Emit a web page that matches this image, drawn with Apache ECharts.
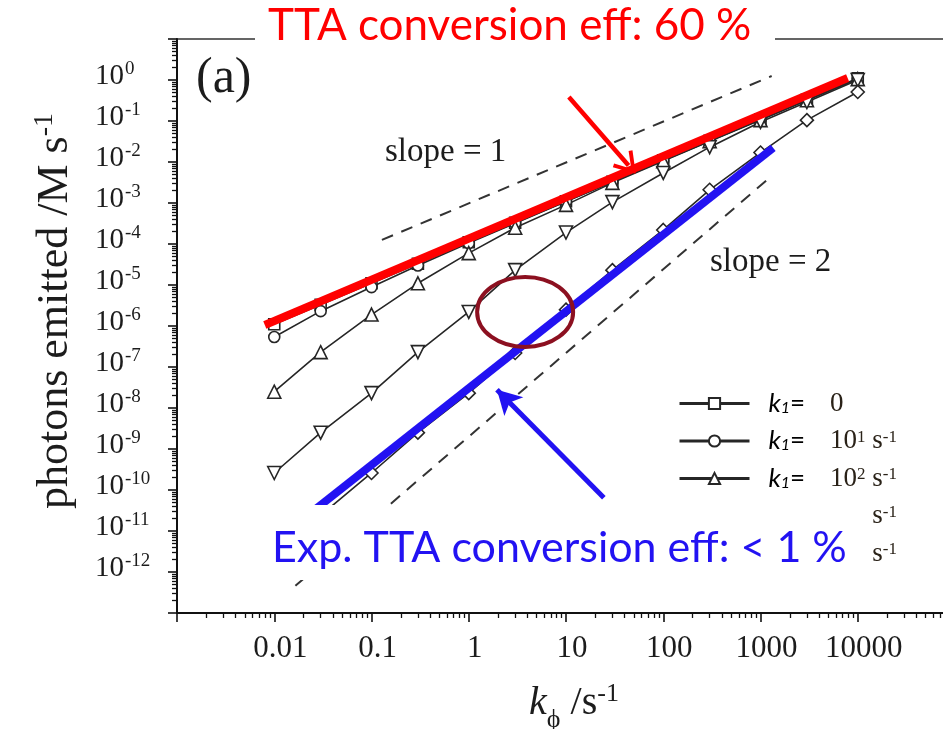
<!DOCTYPE html>
<html><head><meta charset="utf-8">
<script src="https://cdn.jsdelivr.net/npm/echarts@6/dist/echarts.min.js"></script>
<style>html,body{margin:0;padding:0;background:#fff}#c{width:943px;height:729px}</style>
</head><body><div id="c"></div>
<script>
// ---- data ----
const kPhi = [0.01, 0.03, 0.1, 0.3, 1, 3, 10, 30, 100, 300, 1000, 3000, 10000];
const emitK0     = [1.1e-6, 3.3e-6, 1.1e-5, 3.3e-5, 1.1e-4, 3.3e-4, 1.1e-3, 3.3e-3, 1.1e-2, 3.3e-2, 0.11, 0.33, 1.1];
const emitK10    = [5.4e-7, 2.3e-6, 8.9e-6, 3.0e-5, 1.05e-4, 3.2e-4, 1.08e-3, 3.25e-3, 1.08e-2, 3.25e-2, 0.108, 0.325, 1.08];
const emitK100   = [2.5e-8, 2.3e-7, 1.9e-6, 1.1e-5, 6.0e-5, 2.5e-4, 9.0e-4, 3.1e-3, 1.05e-2, 3.2e-2, 0.105, 0.32, 1.05];
const emitK1000  = [2.6e-10, 2.5e-9, 2.3e-8, 2.3e-7, 2.2e-6, 2.3e-5, 1.9e-4, 1.05e-3, 5.4e-3, 2.3e-2, 9.5e-2, 0.29, 1.0];
const emitK10000 = [2.6e-12, 2.4e-11, 2.6e-10, 2.5e-9, 2.3e-8, 2.2e-7, 2.5e-6, 2.3e-5, 2.2e-4, 2.1e-3, 1.7e-2, 0.105, 0.51];

const seriesNames = ['k1=0', 'k1=10^1', 'k1=10^2', 'k1=10^3', 'k1=10^4'];
const legendExponents = [null, '1', '2', '3', '4'];
const seriesSymbols = ['rect', 'circle', 'triangle', 'triangle', 'diamond'];
const seriesRotate = [0, 0, 0, 180, 0];

const xLabelValues = [0.01, 0.1, 1, 10, 100, 1000, 10000];
const xLabelTexts = ['0.01', '0.1', '1', '10', '100', '1000', '10000'];
const xDecades = [1e-3, 1e-2, 1e-1, 1, 10, 100, 1000, 1e4, 1e5];
const yLabelExponents = [0, -1, -2, -3, -4, -5, -6, -7, -8, -9, -10, -11, -12];
const yDecadeExponents = [1, 0, -1, -2, -3, -4, -5, -6, -7, -8, -9, -10, -11, -12, -13];

// guide / annotation lines (data coordinates)
const slope1Line = [[0.128, 1.26e-4], [1303, 1.25]];
const slope2Line = [[0.0165, 4.6e-13], [1334, 4.8e-3]];
const redFit = [[0.008, 1.06e-6], [7870, 1.12]];
const blueFit = [[0.02, 2.0e-11], [1350, 0.022]];
const redArrow = [[10.7, 0.385], [44, 8.2e-3]];
const blueArrow = [[24.5, 6.5e-11], [1.95, 2.8e-8]];
const ellipseCenter = [3.8, 2.2e-6];

// ---- helpers ----
const serif = "'Liberation Serif','Times New Roman',serif";
const sans = "Lato,'Liberation Sans',sans-serif";
const ink = '#1c1c1c';
const yDecades = yDecadeExponents.map(e => Math.pow(10, e));
const yLabelValues = yLabelExponents.map(e => Math.pow(10, e));
function minorsOf(decades) {
  const out = [];
  for (let i = 0; i < decades.length - 1; i++) {
    const d = Math.min(decades[i], decades[i + 1]);
    for (let m = 2; m <= 9; m++) out.push(d * m);
  }
  return out;
}
const xMinors = minorsOf(xDecades);
const yMinors = minorsOf(yDecades);
const emitData = [emitK0, emitK10, emitK100, emitK1000, emitK10000];

const dataSeries = seriesNames.map((name, i) => ({
  name: name,
  type: 'line',
  data: kPhi.map((x, j) => [x, emitData[i][j]]),
  symbol: seriesSymbols[i],
  symbolRotate: seriesRotate[i],
  symbolSize: i >= 2 ? 13 : 11,
  showSymbol: true,
  lineStyle: { color: '#262626', width: 1.6 },
  itemStyle: { color: '#fff', borderColor: '#262626', borderWidth: 1.6 },
  z: 2
}));

const chart = echarts.init(document.getElementById('c'), null, { renderer: 'canvas' });

const option = {
  animation: false,
  backgroundColor: '#fff',
  grid: { left: 177, top: 39, width: 778, height: 574, outerBoundsMode: 'none', containLabel: false,
          show: true, borderColor: '#333', borderWidth: 1.5, backgroundColor: 'transparent' },
  xAxis: [
    {
      type: 'log', logBase: 10, min: 1e-3, max: 1e5, position: 'bottom',
      axisLine: { lineStyle: { color: '#111', width: 2 } },
      axisTick: { customValues: xDecades, length: 9, lineStyle: { color: '#111', width: 1.6 } },
      axisLabel: {
        customValues: xLabelValues, fontFamily: serif, fontSize: 31, color: ink, margin: 20,
        padding: [0, 0, 0, 12],
        formatter: v => xLabelTexts[xLabelValues.findIndex(t => Math.abs(Math.log10(t) - Math.log10(v)) < 0.01)] || ''
      },
      splitLine: { show: false }, minorTick: { show: false },
      name: '{k|k}{sub|ϕ}{n| /s}{sup|-1}', nameLocation: 'middle', nameGap: 68,
      nameTextStyle: {
        padding: [0, 0, 0, 16],
        rich: {
          k: { fontFamily: serif, fontStyle: 'italic', fontSize: 40, color: ink, lineHeight: 44 },
          sub: { fontFamily: serif, fontSize: 26, color: ink, lineHeight: 44, verticalAlign: 'bottom', padding: [0, 0, -8, 0] },
          n: { fontFamily: serif, fontSize: 40, color: ink, lineHeight: 44 },
          sup: { fontFamily: serif, fontSize: 26, color: ink, lineHeight: 44, verticalAlign: 'top' }
        }
      }
    },
    {
      type: 'log', logBase: 10, min: 1e-3, max: 1e5, position: 'bottom',
      axisLine: { show: false },
      axisTick: { customValues: xMinors, length: 5, lineStyle: { color: '#111', width: 1.3 } },
      axisLabel: { show: false }, splitLine: { show: false }
    }
  ],
  yAxis: [
    {
      type: 'log', logBase: 10, min: 1e-13, max: 10, position: 'left',
      axisLine: { lineStyle: { color: '#111', width: 2 } },
      axisTick: { customValues: yDecades, length: 9, lineStyle: { color: '#111', width: 1.6 } },
      axisLabel: {
        customValues: yLabelValues, align: 'left', margin: 82, padding: [0, 0, 8, 0],
        formatter: v => '{b|10}{e|' + Math.round(Math.log10(v)) + '}',
        rich: {
          b: { fontFamily: serif, fontSize: 29, color: ink, lineHeight: 32 },
          e: { fontFamily: serif, fontSize: 19, color: ink, lineHeight: 32, verticalAlign: 'top', padding: [0, 0, 0, 1] }
        }
      },
      splitLine: { show: false },
      name: '{n|photons emitted /M s}{sup|-1}', nameLocation: 'middle', nameGap: 98,
      nameTextStyle: {
        padding: [0, 0, 0, 30],
        rich: {
          n: { fontFamily: serif, fontSize: 44, color: ink, lineHeight: 48 },
          sup: { fontFamily: serif, fontSize: 28, color: ink, lineHeight: 48, verticalAlign: 'top' }
        }
      }
    },
    {
      type: 'log', logBase: 10, min: 1e-13, max: 10, position: 'left',
      axisLine: { show: false },
      axisTick: { customValues: yMinors, length: 5, lineStyle: { color: '#111', width: 1.3 } },
      axisLabel: { show: false }, splitLine: { show: false }
    }
  ],
  legend: {
    data: seriesNames, orient: 'vertical', left: 673, top: 385,
    itemWidth: 70, itemHeight: 14, itemGap: 10.5, selectedMode: false,
    lineStyle: { width: 3, color: '#262626' },
    itemStyle: { borderWidth: 2, borderColor: '#262626', color: '#fff' },
    formatter: name => {
      const e = legendExponents[seriesNames.indexOf(name)];
      const head = '{k|k}{sub|1}{eq|=}';
      return e === null ? head + '{v|0}' : head + '{v|10}{sup|' + e + '}{v| s}{sup|-1}';
    },
    textStyle: {
      rich: {
        k: { fontFamily: sans, fontStyle: 'italic', fontSize: 26, color: '#000', lineHeight: 24, padding: [0, 0, 0, 14] },
        sub: { fontFamily: sans, fontStyle: 'italic', fontSize: 16, color: '#000', lineHeight: 24, verticalAlign: 'bottom' },
        eq: { fontFamily: sans, fontSize: 26, color: '#000', lineHeight: 24, width: 40 },
        v: { fontFamily: serif, fontSize: 27, color: '#2a2218', lineHeight: 24 },
        sup: { fontFamily: serif, fontSize: 17, color: '#2a2218', lineHeight: 24, verticalAlign: 'top' }
      }
    }
  },
  series: dataSeries.concat([
    { name: 'slope1', type: 'line', data: slope1Line, showSymbol: false, symbol: 'none', z: 1,
      lineStyle: { color: '#333', width: 2, type: [12, 9] } },
    { name: 'slope2', type: 'line', data: slope2Line, showSymbol: false, symbol: 'none', z: 1,
      lineStyle: { color: '#333', width: 2, type: [12, 9] } },
    { name: 'redFit', type: 'line', data: redFit, showSymbol: false, symbol: 'none', z: 3,
      lineStyle: { color: '#ff0000', width: 8 },
      markLine: {
        silent: true, symbol: ['none', 'path://M10,0 L20,16 L17.4,17.6 L10,5.5 L2.6,17.6 L0,16 Z'], symbolSize: [26, 22],
        label: { show: false }, lineStyle: { color: '#ff0000', width: 4.5, type: 'solid' },
        itemStyle: { color: '#ff0000' },
        data: [[{ coord: redArrow[0] }, { coord: redArrow[1] }]]
      } },
    { name: 'blueFit', type: 'line', data: blueFit, showSymbol: false, symbol: 'none', z: 3,
      lineStyle: { color: '#2212f2', width: 8 },
      markLine: {
        silent: true, symbol: ['none', 'arrow'], symbolSize: [20, 24],
        label: { show: false }, lineStyle: { color: '#2212f2', width: 5, type: 'solid' },
        itemStyle: { color: '#2212f2' },
        data: [[{ coord: blueArrow[0] }, { coord: blueArrow[1] }]]
      } }
  ]),
  graphic: [
    { type: 'rect', z: 100, shape: { x: 255, y: 0, width: 520, height: 46 }, style: { fill: '#fff' } },
    { type: 'text', z: 101, x: 268, y: 26, style: { text: 'TTA conversion eff: 60 %', fill: '#ff0000', font: '44px ' + sans, textAlign: 'left', textVerticalAlign: 'middle' } },
    { type: 'rect', z: 100, shape: { x: 262, y: 505, width: 611, height: 75 }, style: { fill: '#fff' } },
    { type: 'text', z: 101, x: 272, y: 548, style: { text: 'Exp. TTA conversion eff: < 1 %', fill: '#2212f2', font: '43px ' + sans, textAlign: 'left', textVerticalAlign: 'middle' } },
    { type: 'text', z: 101, x: 196, y: 79, style: { text: '(a)', fill: ink, font: '50px ' + serif, textAlign: 'left', textVerticalAlign: 'middle' } },
    { type: 'text', z: 101, x: 385, y: 152, style: { text: 'slope = 1', fill: ink, font: '33px ' + serif, textAlign: 'left', textVerticalAlign: 'middle' } },
    { type: 'text', z: 101, x: 710, y: 262, style: { text: 'slope = 2', fill: ink, font: '33px ' + serif, textAlign: 'left', textVerticalAlign: 'middle' } }
  ]
};
chart.setOption(option);

const c = chart.convertToPixel({ xAxisIndex: 0, yAxisIndex: 0 }, ellipseCenter);
chart.setOption({
  graphic: option.graphic.concat([
    { type: 'ellipse', z: 102, shape: { cx: c[0], cy: c[1], rx: 48, ry: 35 }, style: { fill: null, stroke: '#8c1020', lineWidth: 4 } }
  ])
});
</script>
</body></html>
